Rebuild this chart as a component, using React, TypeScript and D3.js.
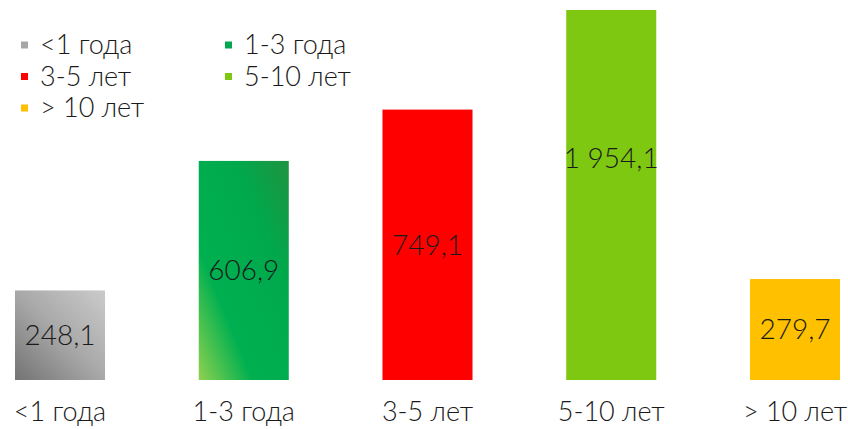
import React from 'react';
import * as d3 from 'd3';

const categories = ['<1 года', '1-3 года', '3-5 лет', '5-10 лет', '> 10 лет'];
const values = [248.1, 606.9, 749.1, 1954.1, 279.7];
const valueLabels = ['248,1', '606,9', '749,1', '1 954,1', '279,7'];
const fills = ['url(#gradGray)', 'url(#gradGreen)', '#ff0000', '#7ec811', '#ffc000'];
const legendColors = ['#a6a6a6', '#00a650', '#ff0000', '#7ec811', '#ffc000'];

const width = 848;
const height = 429;
const baseY = 380;
const topY = 10;
// the tallest bar is cut at the top of the plot
const yMax = 1025;
const font = 'Lato, "Open Sans", sans-serif';

const App: React.FC = () => {
  const xScale = d3.scaleBand<string>().domain(categories)
    .range([15, 840])
    .paddingInner(0.51)
    .paddingOuter(0);
  const yScale = d3.scaleLinear().domain([0, yMax]).range([baseY, topY]).clamp(true);

  return (
    <svg width={width} height={height} style={{position: 'absolute', left: 0, top: 0, background: 'white'}}>
      <defs>
        <linearGradient id="gradGray" x1="0" y1="1" x2="1" y2="0">
          <stop offset="0" stopColor="#737373"/>
          <stop offset="0.5" stopColor="#a8a8a8"/>
          <stop offset="1" stopColor="#cbcbcb"/>
        </linearGradient>
        <linearGradient id="gradGreen" x1="0" y1="1" x2="1" y2="0">
          <stop offset="0" stopColor="#8fd14f"/>
          <stop offset="0.3" stopColor="#00b050"/>
          <stop offset="0.7" stopColor="#00a94c"/>
          <stop offset="1" stopColor="#1f9340"/>
        </linearGradient>
      </defs>
      {categories.map((c, i) => {
        const x = xScale(c) as number;
        const bw = xScale.bandwidth();
        const y = yScale(values[i]);
        const labelY = yScale(Math.min(values[i] / 2, yMax * 0.6));
        return (
          <g key={c}>
            <rect x={x} y={y} width={bw} height={baseY - y} fill={fills[i]}/>
            <text x={x + bw / 2} y={labelY} dy="0.35em" textAnchor="middle" fontFamily={font} fontWeight={300}
              fontSize={28} fill="#1a1a1a">{valueLabels[i]}</text>
            <text x={x + bw / 2} y={421} textAnchor="middle" fontFamily={font} fontWeight={300}
              fontSize={27} fill="#1a1a1a">{c}</text>
          </g>
        );
      })}
      {categories.map((c, i) => {
        const col = i % 2;
        const row = Math.floor(i / 2);
        const lx = 21 + col * 204;
        const ly = 45 + row * 31.5;
        return (
          <g key={'lg' + c} transform={`translate(${lx}, ${ly})`}>
            <rect x={0} y={-3.5} width={7} height={7} fill={legendColors[i]}/>
            <text x={19} y={0} dy="0.35em" fontFamily={font} fontWeight={300} fontSize={27} fill="#1a1a1a">{c}</text>
          </g>
        );
      })}
    </svg>
  );
};

export default App;
